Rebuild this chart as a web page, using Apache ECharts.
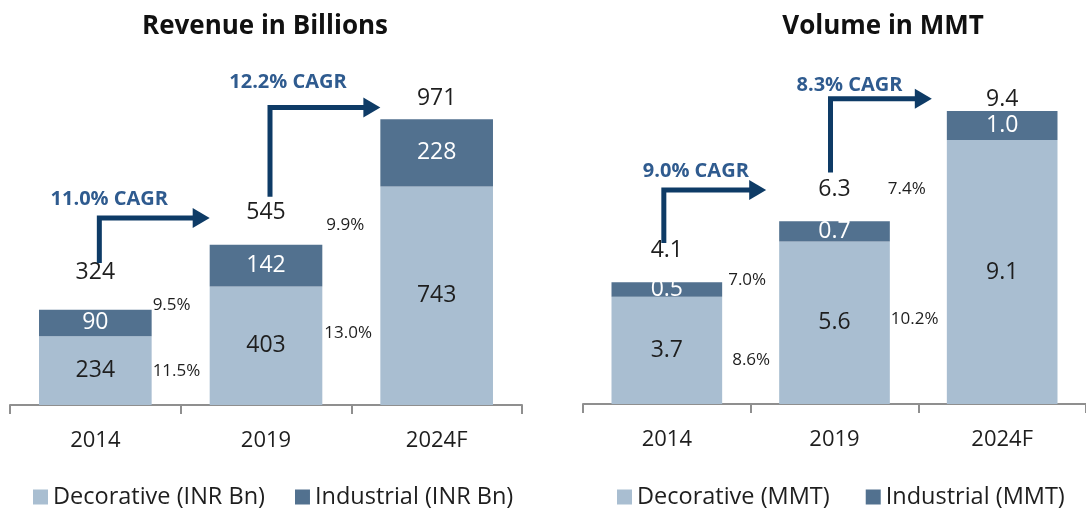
<!DOCTYPE html>
<html>
<head>
<meta charset="utf-8">
<title>Paints market</title>
<script src="https://cdn.jsdelivr.net/npm/echarts@6/dist/echarts.min.js"></script>
<style>
  html, body { margin: 0; padding: 0; background: #fff; }
  #main { width: 1086px; height: 508px; }
</style>
</head>
<body>
<div id="main"></div>
<script>
var years = ['2014', '2019', '2024F'];

// revenue, INR Bn
var revDecorative = [234, 403, 743];
var revIndustrial = [90, 142, 228];
var revTotals = ['324', '545', '971'];
var revCagr = ['11.0% CAGR', '12.2% CAGR'];
var revSegCagr = ['9.5%', '11.5%', '9.9%', '13.0%'];

// volume, MMT
var volDecorative = [3.7, 5.6, 9.1];
var volIndustrial = [0.5, 0.7, 1.0];
var volTotals = ['4.1', '6.3', '9.4'];
var volCagr = ['9.0% CAGR', '8.3% CAGR'];
var volSegCagr = ['7.0%', '8.6%', '7.4%', '10.2%'];

// where the annotations sit, in axis units
var revArrowAt = [[0, 483, 636], [1, 708, 1011]];   // [category, foot, elbow]
var revCagrAt = [[0, 698], [1, 1096]];
var revSegAt = [[0, 340], [0, 114], [1, 612], [1, 245]];
var volArrowAt = [[0, 5.55, 7.38], [1, 7.98, 10.53]];
var volCagrAt = [[0, 8.03], [1, 11.0]];
var volSegAt = [[0, 4.28], [0, 1.52], [1, 7.41], [1, 2.93]];

// small pixel nudges, the original was laid out by hand
var revNudge = { stem: [4, 4], tip: [0, 0], text: [14, 22], seg: [1, 1, 4, 2], total: [37, 32, 21] };
var volNudge = { stem: [-3, -4], tip: [-13, -15], text: [29, 15], seg: [6, 10, -2, 1], total: [32, 32, 12] };

var FONT = '"Open Sans", sans-serif';
var LIGHT = '#a9bed1';
var DARK = '#52718f';
var NAVY = '#0e3b66';
var CAGR_BLUE = '#2f5b8f';
var INK = '#1e1e1e';
var AXIS = '#8f8f8f';
var BAR_RATIO = 0.66;

function sums(a, b) {
  return a.map(function (v, i) { return [i, v + b[i]]; });
}

function arrowSeries(idx, at, labels, textAt, nudge) {
  return {
    type: 'custom', xAxisIndex: idx, yAxisIndex: idx, silent: true, z: 5,
    data: at,
    renderItem: function (params, api) {
      var i = params.dataIndex;
      var cat = api.value(0);
      var band = api.size([1, 0])[0];
      var foot = api.coord([cat, api.value(1)]);
      var elbow = api.coord([cat, api.value(2)]);
      var x = foot[0] + nudge.stem[i];
      var y = elbow[1];
      var tipX = api.coord([cat + 1, 0])[0] - band * BAR_RATIO / 2 + nudge.tip[i];
      var t = api.coord(textAt[i]);
      return {
        type: 'group',
        children: [
          { type: 'polyline', shape: { points: [[x, foot[1]], [x, y], [tipX - 14, y]] },
            style: { stroke: NAVY, lineWidth: 5, fill: null, lineJoin: 'miter' } },
          { type: 'polygon', shape: { points: [[tipX - 17, y - 10], [tipX, y], [tipX - 17, y + 10]] },
            style: { fill: NAVY } },
          { type: 'text', x: t[0] + nudge.text[i], y: t[1],
            style: { text: labels[i], fill: CAGR_BLUE, fontSize: 20, fontWeight: 'bold',
                     fontFamily: FONT, align: 'center', verticalAlign: 'middle' } }
        ]
      };
    }
  };
}

function segSeries(idx, at, labels, nudge) {
  return {
    type: 'custom', xAxisIndex: idx, yAxisIndex: idx, silent: true, z: 5,
    data: at,
    renderItem: function (params, api) {
      var i = params.dataIndex;
      var band = api.size([1, 0])[0];
      var p = api.coord([api.value(0), api.value(1)]);
      return {
        type: 'text', x: p[0] + band * BAR_RATIO / 2 + nudge.seg[i], y: p[1],
        style: { text: labels[i], fill: INK, fontSize: 17, fontFamily: FONT,
                 align: 'left', verticalAlign: 'middle' }
      };
    }
  };
}

function totalSeries(idx, data, labels, nudge) {
  return {
    type: 'custom', xAxisIndex: idx, yAxisIndex: idx, silent: true, z: 5,
    data: data,
    renderItem: function (params, api) {
      var i = params.dataIndex;
      var p = api.coord([api.value(0), api.value(1)]);
      return {
        type: 'text', x: p[0], y: p[1] - nudge.total[i],
        style: { text: labels[i], fill: INK, fontSize: 23, fontFamily: FONT,
                 align: 'center', verticalAlign: 'middle' }
      };
    }
  };
}

function barSeries(name, idx, stack, data, color, textColor, digits) {
  return {
    name: name, type: 'bar', stack: stack, xAxisIndex: idx, yAxisIndex: idx,
    barWidth: (BAR_RATIO * 100) + '%',
    data: data,
    itemStyle: { color: color },
    label: {
      show: true, position: 'inside', color: textColor, fontSize: 23, fontFamily: FONT,
      formatter: function (p) { return digits ? p.value.toFixed(digits) : String(p.value); }
    }
  };
}

function xAxis(idx) {
  return {
    type: 'category', gridIndex: idx, data: years,
    axisLine: { lineStyle: { color: AXIS, width: 2 } },
    axisTick: { show: true, length: 9, lineStyle: { color: AXIS, width: 2 } },
    axisLabel: { fontSize: 22, color: INK, margin: 25, fontFamily: FONT }
  };
}

function legend(names, left, gap) {
  return {
    data: names, left: left, top: 485, padding: 0, icon: 'rect',
    itemWidth: 15, itemHeight: 15, itemGap: gap, selectedMode: false,
    textStyle: { fontSize: 23.5, color: INK, fontFamily: FONT }
  };
}

var chart = echarts.init(document.getElementById('main'));

chart.setOption({
  animation: false,
  textStyle: { fontFamily: FONT },
  title: [
    { text: 'Revenue in Billions', left: 260, top: 9, textAlign: 'center',
      textStyle: { fontSize: 26, fontWeight: 'bold', color: '#111', fontFamily: FONT } },
    { text: 'Volume in MMT', left: 878, top: 9, textAlign: 'center',
      textStyle: { fontSize: 26, fontWeight: 'bold', color: '#111', fontFamily: FONT } }
  ],
  legend: [
    legend(['Decorative (INR Bn)', 'Industrial (INR Bn)'], 33, 30),
    legend(['Decorative (MMT)', 'Industrial (MMT)'], 617, 36)
  ],
  grid: [
    { left: 10, top: 52, width: 512, height: 353 },
    { left: 583, top: 56, width: 514, height: 348 }
  ],
  xAxis: [xAxis(0), xAxis(1)],
  yAxis: [
    { type: 'value', gridIndex: 0, min: 0, max: 1200, show: false },
    { type: 'value', gridIndex: 1, min: 0, max: 12, show: false }
  ],
  series: [
    barSeries('Decorative (INR Bn)', 0, 'rev', revDecorative, LIGHT, INK, 0),
    barSeries('Industrial (INR Bn)', 0, 'rev', revIndustrial, DARK, '#fff', 0),
    barSeries('Decorative (MMT)', 1, 'vol', volDecorative, LIGHT, INK, 1),
    barSeries('Industrial (MMT)', 1, 'vol', volIndustrial, DARK, '#fff', 1),
    totalSeries(0, sums(revDecorative, revIndustrial), revTotals, revNudge),
    totalSeries(1, sums(volDecorative, volIndustrial), volTotals, volNudge),
    arrowSeries(0, revArrowAt, revCagr, revCagrAt, revNudge),
    arrowSeries(1, volArrowAt, volCagr, volCagrAt, volNudge),
    segSeries(0, revSegAt, revSegCagr, revNudge),
    segSeries(1, volSegAt, volSegCagr, volNudge)
  ]
});
</script>
</body>
</html>
